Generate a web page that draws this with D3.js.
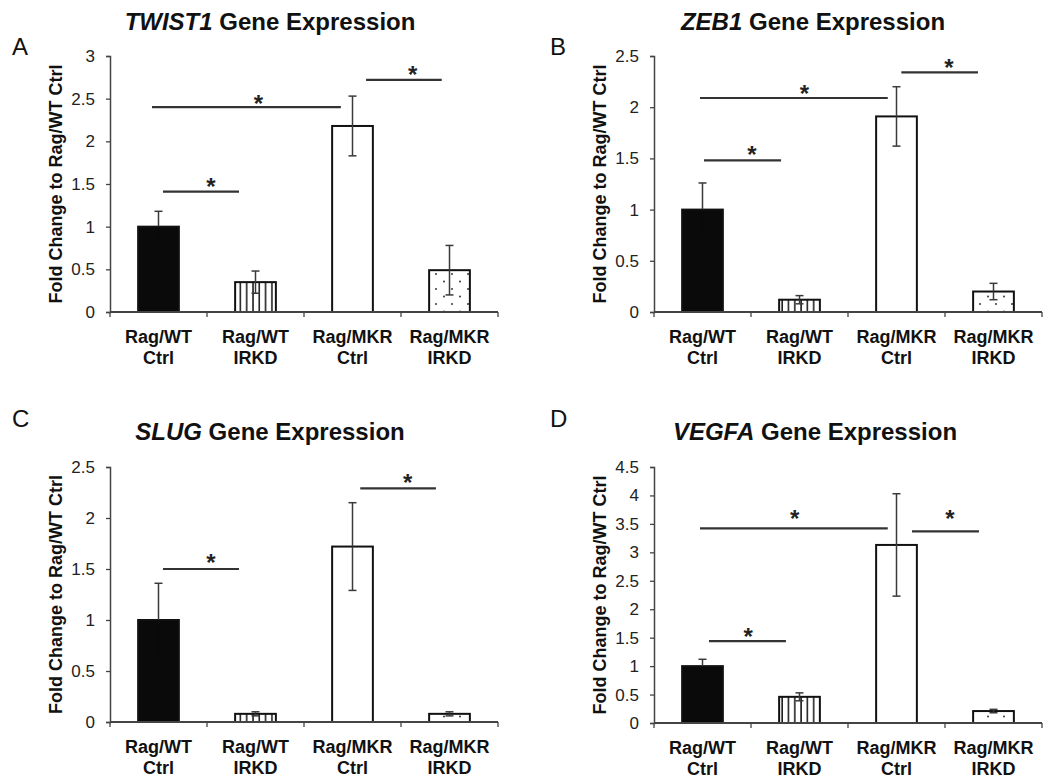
<!DOCTYPE html>
<html>
<head>
<meta charset="utf-8">
<script src="https://cdn.jsdelivr.net/npm/d3@7"></script>
<style>
  html, body { margin: 0; padding: 0; background: #fff; }
  svg { display: block; font-family: "Liberation Sans", Arial, sans-serif; }
</style>
</head>
<body>
<svg id="chart" width="1050" height="779"></svg>
<script>
// ---------------- DATA ----------------
const categories = ["Rag/WT Ctrl", "Rag/WT IRKD", "Rag/MKR Ctrl", "Rag/MKR IRKD"];
const categoryLines = [["Rag/WT", "Ctrl"], ["Rag/WT", "IRKD"], ["Rag/MKR", "Ctrl"], ["Rag/MKR", "IRKD"]];
const genes = ["TWIST1", "ZEB1", "SLUG", "VEGFA"];
const panelLetters = ["A", "B", "C", "D"];
const yAxisTitle = "Fold Change to Rag/WT Ctrl";

const twist1Values = [1.00, 0.35, 2.18, 0.49];
const twist1Errors = [0.18, 0.13, 0.35, 0.29];
const zeb1Values = [1.00, 0.12, 1.91, 0.20];
const zeb1Errors = [0.26, 0.04, 0.29, 0.08];
const slugValues = [1.00, 0.08, 1.72, 0.08];
const slugErrors = [0.36, 0.02, 0.43, 0.02];
const vegfaValues = [1.00, 0.46, 3.13, 0.21];
const vegfaErrors = [0.12, 0.07, 0.90, 0.03];

const twist1Ticks = [0, 0.5, 1, 1.5, 2, 2.5, 3];
const zeb1Ticks = [0, 0.5, 1, 1.5, 2, 2.5];
const slugTicks = [0, 0.5, 1, 1.5, 2, 2.5];
const vegfaTicks = [0, 0.5, 1, 1.5, 2, 2.5, 3, 3.5, 4, 4.5];

// significance brackets: x in category units (0..4 across the axis), y in data units
const twist1Sig = [
  {from: 0.546, to: 1.33, y: 1.41, starX: 1.04, starY: 1.52},
  {from: 0.433, to: 2.38, y: 2.40, starX: 1.53, starY: 2.50},
  {from: 2.64, to: 3.42, y: 2.72, starX: 3.12, starY: 2.84}
];
const zeb1Sig = [
  {from: 0.515, to: 1.31, y: 1.48, starX: 1.01, starY: 1.58},
  {from: 0.474, to: 2.41, y: 2.09, starX: 1.55, starY: 2.18},
  {from: 2.55, to: 3.34, y: 2.34, starX: 3.04, starY: 2.43}
];
const slugSig = [
  {from: 0.546, to: 1.33, y: 1.50, starX: 1.04, starY: 1.61},
  {from: 2.58, to: 3.36, y: 2.29, starX: 3.07, starY: 2.39}
];
const vegfaSig = [
  {from: 0.567, to: 1.36, y: 1.44, starX: 0.97, starY: 1.60},
  {from: 0.474, to: 2.41, y: 3.42, starX: 1.45, starY: 3.67},
  {from: 2.66, to: 3.35, y: 3.37, starX: 3.05, starY: 3.67}
];

const panelValues = [twist1Values, zeb1Values, slugValues, vegfaValues];
const panelErrors = [twist1Errors, zeb1Errors, slugErrors, vegfaErrors];
const panelTicks = [twist1Ticks, zeb1Ticks, slugTicks, vegfaTicks];
const panelSig = [twist1Sig, zeb1Sig, slugSig, vegfaSig];

// ---------------- LAYOUT ----------------
const layout = [
  {x0: 110, x1: 498, y0: 312, y1: 56, titleX: 270, titleY: 30, letterX: 12, letterY: 55},
  {x0: 654, x1: 1042, y0: 312, y1: 56, titleX: 813, titleY: 30, letterX: 550, letterY: 55},
  {x0: 110, x1: 498, y0: 722, y1: 467, titleX: 270, titleY: 440, letterX: 12, letterY: 427},
  {x0: 654, x1: 1042, y0: 723, y1: 467, titleX: 815, titleY: 440, letterX: 550, letterY: 427}
];

const svg = d3.select("#chart");
const defs = svg.append("defs");

// patterns
const stripe = defs.append("pattern")
  .attr("id", "stripes").attr("patternUnits", "userSpaceOnUse")
  .attr("width", 6.3).attr("height", 10);
stripe.append("rect").attr("width", 6.3).attr("height", 10).attr("fill", "#fff");
stripe.append("line").attr("x1", 1).attr("x2", 1).attr("y1", 0).attr("y2", 10)
  .attr("stroke", "#111").attr("stroke-width", 1.5);

const dots = defs.append("pattern")
  .attr("id", "dots").attr("patternUnits", "userSpaceOnUse")
  .attr("width", 16).attr("height", 15);
dots.append("rect").attr("width", 16).attr("height", 15).attr("fill", "#fff");
dots.append("circle").attr("cx", 4).attr("cy", 4).attr("r", 0.9).attr("fill", "#222");
dots.append("circle").attr("cx", 12).attr("cy", 11.5).attr("r", 0.9).attr("fill", "#222");

const fills = ["#0a0a0a", "url(#stripes)", "#ffffff", "url(#dots)"];

panelValues.forEach((vals, p) => {
  const L = layout[p];
  const errs = panelErrors[p];
  const ticks = panelTicks[p];
  const g = svg.append("g");

  const x = d3.scaleBand().domain(categories).range([L.x0, L.x1]).padding(0);
  const xu = d3.scaleLinear().domain([0, categories.length]).range([L.x0, L.x1]);
  const y = d3.scaleLinear().domain([0, d3.max(ticks)]).range([L.y0, L.y1]);
  const barW = x.bandwidth() * 0.42;

  // panel letter
  g.append("text").attr("x", L.letterX).attr("y", L.letterY)
    .attr("font-size", 24).attr("fill", "#111").text(panelLetters[p]);

  // title
  const t = g.append("text").attr("x", L.titleX).attr("y", L.titleY)
    .attr("text-anchor", "middle").attr("font-size", 24).attr("font-weight", "bold").attr("fill", "#111");
  t.append("tspan").attr("font-style", "italic").text(genes[p]);
  t.append("tspan").text(" Gene Expression");

  // y axis
  const yAxis = g.append("g").attr("transform", `translate(${L.x0},0)`)
    .call(d3.axisLeft(y).tickValues(ticks).tickSize(4).tickPadding(11).tickFormat(d3.format("~g")));
  yAxis.select(".domain").attr("stroke", "#444").attr("stroke-width", 1.5);
  yAxis.selectAll(".tick line").attr("stroke", "#444").attr("stroke-width", 1.3);
  yAxis.selectAll(".tick text").attr("font-size", 17).attr("fill", "#222")
    .attr("font-family", "'Liberation Sans', Arial, sans-serif");

  // y title
  g.append("text")
    .attr("transform", `translate(${L.x0 - 48},${(L.y0 + L.y1) / 2}) rotate(-90)`)
    .attr("text-anchor", "middle").attr("font-size", 18).attr("font-weight", "bold").attr("fill", "#111")
    .text(yAxisTitle);

  // bars
  g.selectAll("rect.bar").data(vals).join("rect").attr("class", "bar")
    .attr("x", (d, i) => x(categories[i]) + (x.bandwidth() - barW) / 2)
    .attr("width", barW)
    .attr("y", d => y(d))
    .attr("height", d => y(0) - y(d))
    .attr("fill", (d, i) => fills[i])
    .attr("stroke", "#111").attr("stroke-width", 2);

  // error bars
  const eg = g.append("g").attr("stroke-width", 1.5);
  vals.forEach((v, i) => {
    const cx = x(categories[i]) + x.bandwidth() / 2;
    const hi = y(v + errs[i]), lo = y(Math.max(0, v - errs[i])), mid = y(v);
    const innerColor = i === 0 ? fills[0] : "#3a3a3a";
    eg.append("line").attr("x1", cx).attr("x2", cx).attr("y1", hi).attr("y2", mid).attr("stroke", "#3a3a3a");
    eg.append("line").attr("x1", cx - 4).attr("x2", cx + 4).attr("y1", hi).attr("y2", hi).attr("stroke", "#3a3a3a");
    eg.append("line").attr("x1", cx).attr("x2", cx).attr("y1", mid).attr("y2", lo).attr("stroke", innerColor);
    eg.append("line").attr("x1", cx - 4).attr("x2", cx + 4).attr("y1", lo).attr("y2", lo).attr("stroke", innerColor);
  });

  // x axis
  const xAxisG = g.append("g").attr("transform", `translate(0,${L.y0})`);
  xAxisG.append("line").attr("x1", L.x0).attr("x2", L.x1).attr("y1", 0).attr("y2", 0)
    .attr("stroke", "#444").attr("stroke-width", 2);
  const bounds = d3.range(categories.length + 1).map(i => xu(i));
  xAxisG.selectAll("line.xt").data(bounds).join("line").attr("class", "xt")
    .attr("x1", d => d).attr("x2", d => d).attr("y1", 0).attr("y2", 5)
    .attr("stroke", "#444").attr("stroke-width", 1.3);
  categoryLines.forEach((lines, i) => {
    const cx = x(categories[i]) + x.bandwidth() / 2;
    const tx = xAxisG.append("text").attr("text-anchor", "middle")
      .attr("font-size", 18).attr("font-weight", "bold").attr("fill", "#111");
    tx.append("tspan").attr("x", cx).attr("y", 31).text(lines[0]);
    tx.append("tspan").attr("x", cx).attr("y", 52).text(lines[1]);
  });

  // significance
  panelSig[p].forEach(s => {
    g.append("line").attr("x1", xu(s.from)).attr("x2", xu(s.to))
      .attr("y1", y(s.y)).attr("y2", y(s.y))
      .attr("stroke", "#333").attr("stroke-width", 2.2);
    g.append("text").attr("x", xu(s.starX)).attr("y", y(s.starY) + 13)
      .attr("text-anchor", "middle").attr("font-size", 24).attr("font-weight", "bold")
      .attr("fill", "#222").text("*");
  });
});
</script>
</body>
</html>
